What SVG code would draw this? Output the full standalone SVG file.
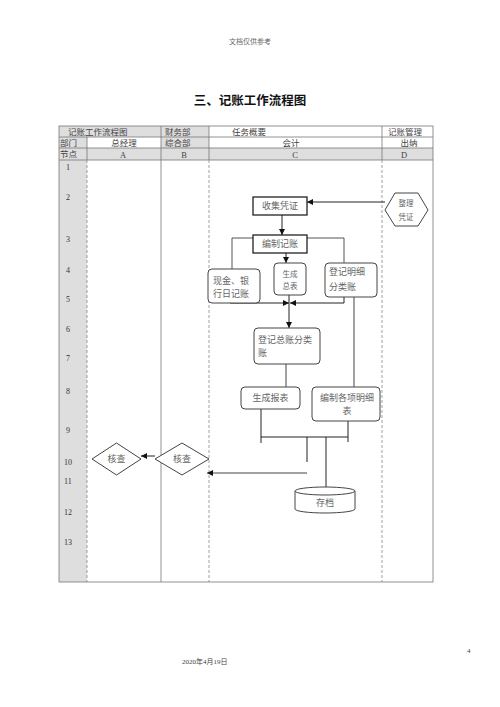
<svg xmlns="http://www.w3.org/2000/svg" width="500" height="707" viewBox="0 0 500 707">
<style>
text{font-family:"Liberation Serif","Noto Sans CJK SC",serif;fill:#444}
.t{font-size:8.5px}
.c{text-anchor:middle}
.n{font-size:8px;fill:#333}
.tb{stroke:#777;stroke-width:0.8;fill:none}
.dash{stroke:#888;stroke-width:0.8;stroke-dasharray:3,2;fill:none}
.box{fill:#fff;stroke:#444;stroke-width:1}
.box2{fill:#fff;stroke:#222;stroke-width:1.3}
.nt{font-size:9px;fill:#666}
.ln{stroke:#222;stroke-width:1;fill:none}
</style>
<defs>
<marker id="ah" markerUnits="userSpaceOnUse" markerWidth="6" markerHeight="6" refX="6" refY="3" orient="auto">
<path d="M0,0 L6,3 L0,6 z" fill="#111"/>
</marker>
</defs>
<rect width="500" height="707" fill="#fff"/>
<text x="250" y="44" class="c" style="font-size:7px;fill:#666">文档仅供参考</text>
<text x="250" y="105" class="c" style="font-size:12.5px;font-weight:bold;fill:#111;font-family:'Noto Sans CJK SC',sans-serif">三、记账工作流程图</text>
<g id="table">
<rect x="59" y="126" width="102" height="11" fill="#dedede"/>
<rect x="161" y="126" width="48" height="11" fill="#dedede"/>
<rect x="59" y="137" width="28" height="11" fill="#dedede"/>
<rect x="161" y="137" width="48" height="11" fill="#dedede"/>
<rect x="59" y="148" width="374" height="12" fill="#dedede"/>
<rect x="59" y="160" width="28" height="422" fill="#dedede"/>
<rect x="59" y="126" width="374" height="456" class="tb"/>
<line x1="59" y1="137" x2="433" y2="137" class="tb"/>
<line x1="59" y1="148" x2="433" y2="148" class="tb"/>
<line x1="59" y1="160" x2="433" y2="160" class="tb"/>
<line x1="87" y1="137" x2="87" y2="160" class="tb"/>
<line x1="161" y1="126" x2="161" y2="582" class="tb"/>
<line x1="209" y1="126" x2="209" y2="160" class="tb"/>
<line x1="382" y1="126" x2="382" y2="160" class="tb"/>
<line x1="87" y1="160" x2="87" y2="582" class="dash"/>
<line x1="209" y1="160" x2="209" y2="582" class="dash"/>
<line x1="382" y1="160" x2="382" y2="582" class="dash"/>
<text x="68" y="135" class="t">记账工作流程图</text>
<text x="165" y="135" class="t">财务部</text>
<text x="232" y="135" class="t">任务概要</text>
<text x="405" y="135" class="t c">记账管理</text>
<text x="60" y="146" class="t">部门</text>
<text x="124" y="146" class="t c">总经理</text>
<text x="165" y="146" class="t">综合部</text>
<text x="291" y="146" class="t c">会计</text>
<text x="409" y="146" class="t c">出纳</text>
<text x="60" y="157" class="t">节点</text>
<text x="123" y="157.5" class="t c">A</text>
<text x="184" y="157.5" class="t c">B</text>
<text x="295" y="157.5" class="t c">C</text>
<text x="404" y="157.5" class="t c">D</text>
<text x="66" y="170" class="n">1</text>
<text x="66" y="200" class="n">2</text>
<text x="66" y="242" class="n">3</text>
<text x="66" y="273" class="n">4</text>
<text x="66" y="302" class="n">5</text>
<text x="66" y="332" class="n">6</text>
<text x="66" y="361" class="n">7</text>
<text x="66" y="394" class="n">8</text>
<text x="66" y="433" class="n">9</text>
<text x="64" y="465" class="n">10</text>
<text x="64" y="484" class="n">11</text>
<text x="64" y="515" class="n">12</text>
<text x="64" y="545" class="n">13</text>
</g>
<g id="connectors">
<line x1="385" y1="202" x2="307" y2="202" class="ln" marker-end="url(#ah)"/>
<line x1="282" y1="215" x2="282" y2="235" class="ln" marker-end="url(#ah)"/>
<line x1="286" y1="253" x2="286" y2="263" class="ln" marker-end="url(#ah)"/>
<polyline points="253,238 232,238 232,270" class="ln" style="stroke:#555"/>
<polyline points="307,238 344,238 344,263" class="ln" style="stroke:#555"/>
<polyline points="230,300 230,303 289,303" class="ln" marker-end="url(#ah)"/>
<polyline points="344,297 344,303 290,303" class="ln" marker-end="url(#ah)"/>
<line x1="289" y1="295" x2="289" y2="328" class="ln" marker-end="url(#ah)"/>
<line x1="354" y1="289" x2="354" y2="387" class="ln" style="stroke:#444"/>
<line x1="286" y1="357" x2="286" y2="387" class="ln" style="stroke:#444"/>
<line x1="261" y1="405" x2="261" y2="443" class="ln"/>
<line x1="261" y1="437" x2="348" y2="437" class="ln"/>
<line x1="348" y1="414" x2="348" y2="442" class="ln"/>
<line x1="307" y1="437" x2="307" y2="462" class="ln"/>
<line x1="326" y1="437" x2="326" y2="505" class="ln" marker-end="url(#ah)"/>
<line x1="307" y1="473" x2="207" y2="473" class="ln" style="stroke:#444" marker-end="url(#ah)"/>
<line x1="155" y1="456" x2="141" y2="456" class="ln" marker-end="url(#ah)"/>
</g>
<g id="n-zhengli">
<polygon points="385,210 395,193 418,193 428,210 418,226 395,226" class="box"/>
<text x="406" y="206" class="nt c" style="font-size:7.5px">整理</text>
<text x="406" y="220" class="nt c" style="font-size:7.5px">凭证</text>
</g>
<g id="n-shouji">
<rect x="253" y="197" width="54" height="18" class="box2"/>
<text x="280" y="209" class="nt c">收集凭证</text>
</g>
<g id="n-bianzhi">
<rect x="253" y="235" width="54" height="18" class="box2"/>
<text x="280" y="247" class="nt c">编制记账</text>
</g>
<g id="n-xianjin">
<rect x="208" y="269" width="52" height="34" rx="4" class="box"/>
<text x="213" y="284" class="nt">现金、银</text>
<text x="213" y="297" class="nt">行日记账</text>
</g>
<g id="n-zongbiao">
<rect x="274" y="263" width="32" height="32" rx="4" class="box"/>
<text x="290" y="277" class="nt c" style="font-size:7.5px">生成</text>
<text x="290" y="289" class="nt c" style="font-size:7.5px">总表</text>
</g>
<g id="n-mingxi">
<rect x="325" y="263" width="52" height="34" rx="4" class="box"/>
<text x="329" y="275" class="nt">登记明细</text>
<text x="329" y="290" class="nt">分类账</text>
</g>
<g id="n-zongzhang">
<rect x="254" y="328" width="66" height="36" rx="4" class="box"/>
<text x="258" y="343" class="nt">登记总账分类</text>
<text x="258" y="356" class="nt">账</text>
</g>
<g id="n-baobiao">
<rect x="241" y="387" width="59" height="22" rx="4" class="box"/>
<text x="270.5" y="401" class="nt c">生成报表</text>
</g>
<g id="n-gexiang">
<rect x="312" y="387" width="68" height="34" rx="4" class="box"/>
<text x="347" y="401" class="nt c">编制各项明细</text>
<text x="347" y="414" class="nt c">表</text>
</g>
<g id="n-cundang">
<path d="M295,491 L295,509 A30,4 0 0 0 355,509 L355,491" class="box"/>
<ellipse cx="325" cy="491" rx="30" ry="4" class="box"/>
<text x="325" y="506" class="nt c">存档</text>
</g>
<g id="n-hecha-b">
<polygon points="155,459 182,443 209,459 182,475" class="box"/>
<text x="182" y="462" class="nt c">核查</text>
</g>
<g id="n-hecha-a">
<polygon points="92,459 116.5,443 141,459 116.5,475" class="box"/>
<text x="116.5" y="462" class="nt c">核查</text>
</g>
<text x="182" y="664" style="font-size:7px;fill:#444">2020年4月19日</text>
<text x="467" y="653" style="font-size:7px;fill:#444">4</text>
</svg>
